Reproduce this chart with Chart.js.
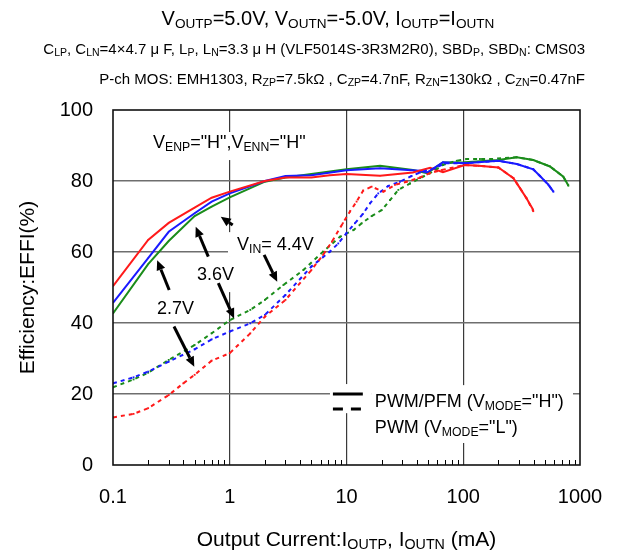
<!DOCTYPE html>
<html><head><meta charset="utf-8">
<script src="https://cdn.jsdelivr.net/npm/chart.js@4.4.1/dist/chart.umd.min.js"></script>
<style>html,body{margin:0;padding:0;background:#fff}canvas{display:block}</style>
</head><body>
<canvas id="c" width="636" height="551"></canvas>
<script>
// ---------- data ----------
const xTicks = [0.1, 1, 10, 100, 1000];
const yTicks = [0, 20, 40, 60, 80, 100];

// PWM/PFM (solid)
const solidRedX   = [0.1, 0.2, 0.3, 0.5, 0.7, 1, 2, 3, 5, 7.2, 10, 19.4, 37, 52, 67, 103, 135, 200, 269, 306, 349, 398];
const solidRedY   = [50.4, 63.4, 68.2, 72.5, 75.3, 77, 80, 81, 81, 81.6, 82, 81.5, 82.4, 83.7, 82.5, 84.5, 84.3, 83.8, 80.8, 78, 75.1, 71.8];
const solidBlueX  = [0.1, 0.2, 0.3, 0.5, 0.7, 1, 2, 3, 5, 10, 19.4, 42.7, 49, 67, 103, 200, 287, 398, 454, 535, 592];
const solidBlueY  = [45.7, 58.3, 65.7, 70.9, 74.2, 76.5, 80, 81.4, 81.6, 83, 83.6, 82.9, 82.4, 85.3, 85, 85.7, 84.8, 83.3, 81.4, 79, 77];
const solidGreenX = [0.1, 0.2, 0.3, 0.5, 0.7, 1, 2, 3, 5, 10, 19.4, 37, 49, 67, 103, 200, 287, 398, 553, 720, 795];
const solidGreenY = [42.7, 56.6, 63.1, 70.1, 72.8, 75.4, 79.8, 81, 82, 83.3, 84.3, 83.1, 82.2, 85.2, 85.3, 85.9, 86.7, 85.9, 84.1, 81.2, 78.7];

// PWM (dashed)
const dashRedX   = [0.1, 0.15, 0.2, 0.3, 0.4, 0.5, 0.7, 1, 1.5, 2, 3, 5, 6.3, 7.5, 9.3, 10.7, 12.2, 13.9, 16.4, 20.7, 26, 32.7, 41.2, 51.9, 65.3, 103, 135, 200, 269, 306, 349, 398];
const dashRedY   = [13.4, 14.4, 16, 19.7, 23, 25.4, 29.4, 31.5, 37.1, 41.8, 46.5, 54.9, 59.2, 62.9, 68.1, 71.4, 74.2, 77.3, 78.4, 77, 78.9, 79.8, 80.8, 82.2, 83.1, 84.5, 84.3, 83.8, 80.8, 78, 75.1, 71.5];
const dashBlueX  = [0.1, 0.15, 0.2, 0.3, 0.5, 0.7, 1, 1.5, 2, 3, 5, 7.2, 8.5, 10, 11.8, 13.8, 15.9, 18.7, 22.8, 28.7, 36.1, 42.6, 57.3, 69.8, 103, 200, 287, 398, 454, 535, 592];
const dashBlueY  = [23, 24.7, 26.3, 29.1, 32.6, 35.4, 37.6, 39.9, 42.3, 47.9, 55.9, 60.1, 62.4, 65.3, 68.1, 70.7, 73.7, 76.5, 78.6, 79.8, 81.4, 82.4, 83.6, 85, 85, 85.7, 84.8, 83.3, 81.4, 79, 77];
const dashGreenX = [0.1, 0.15, 0.2, 0.3, 0.5, 0.7, 1, 1.5, 2, 2.88, 4.27, 6.3, 8.8, 11.5, 13.5, 16.4, 20, 23.6, 27.8, 35, 42.6, 52, 67, 88, 107, 139, 175, 287, 398, 553, 720, 795];
const dashGreenY = [21.9, 24.1, 26, 29.6, 33.8, 37.1, 40.8, 43.7, 46.5, 50.7, 54.9, 60.1, 64.3, 66.2, 68.1, 70.1, 71.8, 74.6, 77.5, 79.3, 80.8, 82.2, 84.5, 85.7, 86.2, 86.2, 86.2, 86.7, 85.9, 84.1, 81.2, 78.7];

// ---------- text ----------
const titleLines = [
  'V_{OUTP}=5.0V, V_{OUTN}=-5.0V, I_{OUTP}=I_{OUTN}',
  'C_{LP}, C_{LN}=4×4.7 μ F, L_{P}, L_{N}=3.3 μ H (VLF5014S-3R3M2R0), SBD_{P}, SBD_{N}: CMS03',
  'P-ch MOS: EMH1303, R_{ZP}=7.5kΩ , C_{ZP}=4.7nF, R_{ZN}=130kΩ , C_{ZN}=0.47nF'
];
const xTitle = 'Output Current:I_{OUTP}, I_{OUTN} (mA)';
const yTitle = 'Efficiency:EFFI(%)';
const legendLabels = ['PWM/PFM (V_{MODE}="H")', 'PWM (V_{MODE}="L")'];
// annotation labels: [text, x(mA) left, y(%) baseline]
const labels = [
  ['V_{ENP}="H",V_{ENN}="H"', 0.22, 89.3],
  ['V_{IN}= 4.4V', 1.154, 60.6],
  ['3.6V', 0.524, 52.1],
  ['2.7V', 0.238, 42.5]
];
// arrows: [tailX, tailY, tipX, tipY] in data units
const arrows = [
  [1.06, 67.6, 0.837, 69.9],
  [0.655, 58.7, 0.511, 67.1],
  [0.303, 49.3, 0.239, 57.7],
  [1.97, 59.2, 2.55, 51.6],
  [0.798, 51.2, 1.09, 41.3],
  [0.333, 39.0, 0.497, 27.7]
];
// white label backgrounds: [x1, x2, y1, y2] in data units
const whiteBoxes = [
  [0.2, 4.68, 93.8, 85.9],
  [0.966, 6.29, 65.6, 58.6],
  [0.456, 1.35, 58.6, 48.7],
  [0.188, 0.614, 47.3, 41.4],
  [7.22, 16.5, 22.8, 14.6],
  [16.5, 871, 22.5, 6.2]
];

const FONT = '"Liberation Sans", Arial, Helvetica, sans-serif';
function parseRich(str){const out=[];const re=/_\{([^}]*)\}/g;let last=0,m;while((m=re.exec(str))){if(m.index>last)out.push({t:str.slice(last,m.index),sub:false});out.push({t:m[1],sub:true});last=re.lastIndex;}if(last<str.length)out.push({t:str.slice(last),sub:false});return out;}
function richWidth(ctx,segs,size,r){let w=0;for(const s of segs){ctx.font=(s.sub?size*r:size)+'px '+FONT;w+=ctx.measureText(s.t).width;}return w;}
function drawRich(ctx,str,x,y,size,align,r,drop){r=r||0.68;drop=drop===undefined?0.16:drop;const segs=parseRich(str);const w=richWidth(ctx,segs,size,r);let cx=align==='center'?x-w/2:align==='right'?x-w:x;ctx.textAlign='left';ctx.textBaseline='alphabetic';ctx.fillStyle='#000';for(const s of segs){const fs=s.sub?size*r:size;ctx.font=fs+'px '+FONT;ctx.fillText(s.t,cx,y+(s.sub?size*drop:0));cx+=ctx.measureText(s.t).width;}}

const mk=(xs,ys)=>xs.map((x,i)=>({x:x,y:ys[i]}));
const ds=(label,xs,ys,color,dashed)=>({label,data:mk(xs,ys),borderColor:color,backgroundColor:color,borderWidth:2,borderDash:dashed?[4,4]:[],pointRadius:dashed?1.3:0.8,pointStyle:'rect',pointBorderWidth:0,tension:0,fill:false});

const RED='#ff1a1a', BLUE='#1a1aff', GREEN='#1a8c1a';

const annot = {
  id:'annot',
  beforeDatasetsDraw(chart){
    const ctx=chart.ctx, xs=chart.scales.x, ys=chart.scales.y;
    ctx.save(); ctx.fillStyle='#fff';
    for(const b of whiteBoxes){
      const x1=xs.getPixelForValue(b[0]), x2=xs.getPixelForValue(b[1]);
      const y1=ys.getPixelForValue(b[2]), y2=ys.getPixelForValue(b[3]);
      ctx.fillRect(Math.min(x1,x2),Math.min(y1,y2),Math.abs(x2-x1),Math.abs(y2-y1));
    }
    ctx.restore();
  },
  afterDatasetsDraw(chart){
    const ctx=chart.ctx, xs=chart.scales.x, ys=chart.scales.y, a=chart.chartArea;
    ctx.save();
    // minor ticks on bottom axis
    ctx.strokeStyle='#000'; ctx.lineWidth=1;
    for(const d of [0.1,1,10,100]){
      for(let k=2;k<=9;k++){
        const px=Math.round(xs.getPixelForValue(k*d))+0.5;
        ctx.beginPath(); ctx.moveTo(px,a.bottom); ctx.lineTo(px,a.bottom-5); ctx.stroke();
      }
    }
    // border
    ctx.strokeStyle='#111'; ctx.lineWidth=1.6;
    ctx.strokeRect(a.left,a.top,a.right-a.left,a.bottom-a.top);
    // arrows
    ctx.strokeStyle='#000'; ctx.fillStyle='#000'; ctx.lineWidth=3;
    for(const ar of arrows){
      const x0=xs.getPixelForValue(ar[0]), y0=ys.getPixelForValue(ar[1]);
      const x1=xs.getPixelForValue(ar[2]), y1=ys.getPixelForValue(ar[3]);
      const ang=Math.atan2(y1-y0,x1-x0), L=10, W=4.5;
      const bx=x1-L*Math.cos(ang), by=y1-L*Math.sin(ang);
      ctx.beginPath(); ctx.moveTo(x0,y0); ctx.lineTo(bx,by); ctx.stroke();
      ctx.beginPath(); ctx.moveTo(x1,y1);
      ctx.lineTo(bx+W*Math.sin(ang),by-W*Math.cos(ang));
      ctx.lineTo(bx-W*Math.sin(ang),by+W*Math.cos(ang));
      ctx.closePath(); ctx.fill();
    }
    // labels
    for(const l of labels){
      drawRich(ctx,l[0],xs.getPixelForValue(l[1]),ys.getPixelForValue(l[2]),18,'left',0.68,0.16);
    }
    // legend
    const lx0=xs.getPixelForValue(7.65), lx1=xs.getPixelForValue(13.8);
    ctx.strokeStyle='#000'; ctx.lineWidth=3;
    let yy=ys.getPixelForValue(20);
    ctx.beginPath(); ctx.moveTo(lx0,yy); ctx.lineTo(lx1,yy); ctx.stroke();
    yy=ys.getPixelForValue(15.8);
    ctx.setLineDash([10,8]);
    ctx.beginPath(); ctx.moveTo(lx0,yy); ctx.lineTo(lx1,yy); ctx.stroke();
    ctx.setLineDash([]);
    const tx=xs.getPixelForValue(17.5);
    drawRich(ctx,legendLabels[0],tx,ys.getPixelForValue(16.3),18,'left',0.68,0.16);
    drawRich(ctx,legendLabels[1],tx,ys.getPixelForValue(9.0),18,'left',0.68,0.16);
    ctx.restore();
  },
  afterDraw(chart){
    const ctx=chart.ctx, a=chart.chartArea;
    ctx.save();
    drawRich(ctx,titleLines[0],328,25,20,'center',0.68,0.16);
    drawRich(ctx,titleLines[1],585,54,15,'right',0.7,0.14);
    drawRich(ctx,titleLines[2],585,84,15,'right',0.7,0.14);
    drawRich(ctx,xTitle,(a.left+a.right)/2,546,21,'center',0.68,0.16);
    ctx.translate(34,(a.top+a.bottom)/2); ctx.rotate(-Math.PI/2);
    drawRich(ctx,yTitle,0,0,21,'center',0.68,0.16);
    ctx.restore();
  }
};

new Chart(document.getElementById('c'),{
  type:'line',
  data:{datasets:[
    ds('PWM red',dashRedX,dashRedY,RED,true),
    ds('PWM blue',dashBlueX,dashBlueY,BLUE,true),
    ds('PWM green',dashGreenX,dashGreenY,GREEN,true),
    ds('PWM/PFM red',solidRedX,solidRedY,RED,false),
    ds('PWM/PFM blue',solidBlueX,solidBlueY,BLUE,false),
    ds('PWM/PFM green',solidGreenX,solidGreenY,GREEN,false)
  ]},
  options:{
    responsive:false, animation:false, devicePixelRatio:1,
    layout:{padding:{top:110,right:56,left:0,bottom:0}},
    plugins:{legend:{display:false},tooltip:{enabled:false},title:{display:false}},
    scales:{
      x:{type:'logarithmic',min:0.1,max:1000,
        afterBuildTicks(s){s.ticks=xTicks.map(v=>({value:v}));},
        afterFit(s){s.height=86;},
        ticks:{callback:(v)=>String(v),font:{family:FONT,size:20},color:'#000',padding:20,maxRotation:0,autoSkip:false},
        grid:{drawTicks:false,color:(c)=>(c.tick&&(c.tick.value===0.1||c.tick.value===1000))?'rgba(0,0,0,0)':'#3a3a3a',lineWidth:1.2},
        border:{display:false}},
      y:{min:0,max:100,
        afterBuildTicks(s){s.ticks=yTicks.map(v=>({value:v}));},
        afterFit(s){s.width=113;},
        ticks:{font:{family:FONT,size:20},color:'#000',padding:20},
        grid:{drawTicks:false,color:(c)=>(c.tick&&(c.tick.value===0||c.tick.value===100))?'rgba(0,0,0,0)':'#6e6e6e',lineWidth:1.6},
        border:{display:false}}
    }
  },
  plugins:[annot]
});
</script>
</body></html>
